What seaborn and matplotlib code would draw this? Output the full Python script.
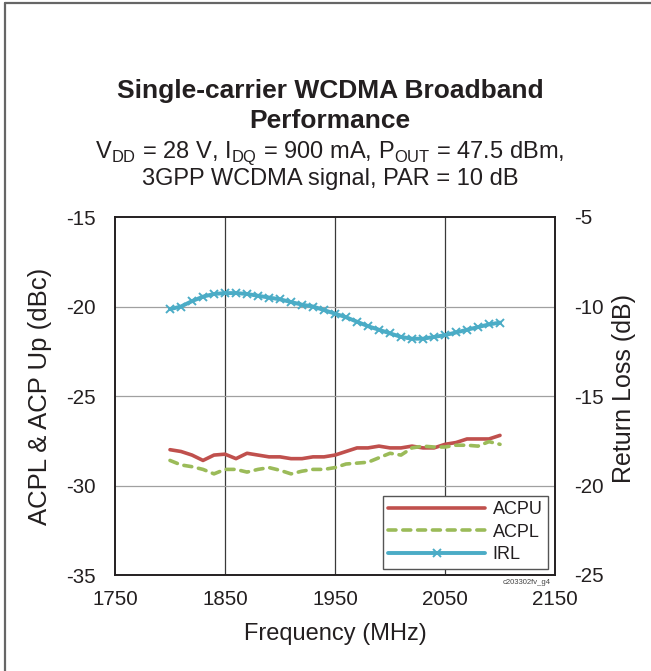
import numpy as np
import pandas as pd
import matplotlib
matplotlib.use("Agg")
import matplotlib.pyplot as plt
import seaborn as sns
from matplotlib.lines import Line2D

# ============================================================================
# DATA
# ============================================================================
freq = [1800, 1810, 1820, 1830, 1840, 1850, 1860, 1870, 1880, 1890, 1900,
        1910, 1920, 1930, 1940, 1950, 1960, 1970, 1980, 1990, 2000,
        2010, 2020, 2030, 2040, 2050, 2060, 2070, 2080, 2090, 2100]

acpu = [-28.0, -28.1, -28.3, -28.6, -28.3, -28.25, -28.5, -28.2, -28.3, -28.4, -28.4,
        -28.5, -28.5, -28.4, -28.4, -28.3, -28.1, -27.9, -27.9, -27.8, -27.9,
        -27.9, -27.8, -27.9, -27.9, -27.7, -27.6, -27.4, -27.4, -27.4, -27.2]

acpl = [-28.6, -28.85, -28.95, -29.1, -29.35, -29.1, -29.1, -29.25, -29.1, -29.0, -29.15,
        -29.35, -29.2, -29.1, -29.1, -29.0, -28.8, -28.75, -28.7, -28.45, -28.2,
        -28.3, -27.9, -27.8, -27.85, -27.85, -27.75, -27.75, -27.8, -27.55, -27.7]

irl = [-10.15, -10.0, -9.7, -9.45, -9.3, -9.25, -9.25, -9.3, -9.4, -9.5, -9.6,
       -9.75, -9.9, -10.0, -10.2, -10.4, -10.6, -10.85, -11.1, -11.3, -11.5,
       -11.7, -11.8, -11.8, -11.7, -11.6, -11.45, -11.3, -11.15, -11.0, -10.9]

x_ticks = [1750, 1850, 1950, 2050, 2150]
left_ticks = [-35, -30, -25, -20, -15]
right_ticks = [-25, -20, -15, -10, -5]

df = pd.DataFrame({"freq": freq, "ACPU": acpu, "ACPL": acpl, "IRL": irl})

# ============================================================================
# STYLE
# ============================================================================
sns.set_style("white")
plt.rcParams["font.family"] = ["Liberation Sans", "DejaVu Sans"]
plt.rcParams["axes.unicode_minus"] = False
txt = "#231F20"
red = "#C0504D"
green = "#9BBB59"
blue = "#4BACC6"
dash = (0, (2.2, 1.9))

fig = plt.figure(figsize=(6.51, 6.71), dpi=100)
ax = fig.add_axes([115 / 651, 1 - 575 / 671, 440 / 651, 358 / 671])
ax2 = ax.twinx()

# ============================================================================
# PLOT
# ============================================================================
sns.lineplot(data=df, x="freq", y="ACPU", ax=ax, color=red, lw=2.6,
             label="ACPU", legend=False)
sns.lineplot(data=df, x="freq", y="ACPL", ax=ax, color=green, lw=2.6,
             linestyle=dash, dash_capstyle="round", label="ACPL", legend=False)
sns.lineplot(data=df, x="freq", y="IRL", ax=ax2, color=blue, lw=2.8,
             marker="x", markersize=5.5, markeredgewidth=1.4, markeredgecolor=blue,
             label="IRL", legend=False)

ax.set_xlim(1750, 2150)
ax.set_ylim(-35, -15)
ax2.set_ylim(-25, -5)
ax.set_xticks(x_ticks)
ax.set_yticks(left_ticks)
ax2.set_yticks(right_ticks)

# grid: vertical dark, horizontal light
for xv in x_ticks[1:-1]:
    ax.axvline(xv, color="#3a3a3a", lw=0.9, zorder=0)
for yv in left_ticks[1:-1]:
    ax.axhline(yv, color="#a0a0a0", lw=0.9, zorder=0)

for a in (ax, ax2):
    for s in a.spines.values():
        s.set_color(txt)
        s.set_linewidth(1.2)
        s.set_visible(True)
    a.tick_params(length=0, labelsize=14.8, colors=txt, pad=14)
ax.tick_params(axis="x", pad=11)

ax.set_xlabel("Frequency (MHz)", fontsize=17, color=txt, labelpad=10)
ax.set_ylabel("ACPL & ACP Up (dBc)", fontsize=18.5, color=txt, labelpad=10)
ax2.set_ylabel("Return Loss (dB)", fontsize=18, color=txt)
ax2.yaxis.set_label_coords(1.129, 0.52)

handles = [Line2D([], [], color=red, lw=2.6),
           Line2D([], [], color=green, lw=2.6, linestyle=dash, dash_capstyle="round"),
           Line2D([], [], color=blue, lw=2.8, marker="x", markersize=5.5,
                  markeredgewidth=1.4)]
leg = ax2.legend(handles, ["ACPU", "ACPL", "IRL"], loc="lower right",
                 bbox_to_anchor=(0.984, 0.018), fontsize=13, frameon=True,
                 fancybox=False, framealpha=1, edgecolor="#555555",
                 handlelength=5.4, borderpad=0.3, borderaxespad=0,
                 labelspacing=0.3, handletextpad=0.4, numpoints=1)
leg.get_frame().set_linewidth(1.0)
for t in leg.get_texts():
    t.set_color(txt)

# ============================================================================
# TITLES AND ANNOTATION
# ============================================================================
cx = 0.507
fig.text(cx, 0.854, "Single-carrier WCDMA Broadband", ha="center", va="baseline",
         fontsize=19, fontweight="bold", color=txt)
fig.text(cx, 0.8092, "Performance", ha="center", va="baseline",
         fontsize=19, fontweight="bold", color=txt)
fig.text(cx, 0.7645,
         r"V$_{\mathregular{DD}}$ = 28 V, I$_{\mathregular{DQ}}$ = 900 mA, "
         r"P$_{\mathregular{OUT}}$ = 47.5 dBm,",
         ha="center", va="baseline", fontsize=17, color=txt)
fig.text(cx, 0.7243, "3GPP WCDMA signal, PAR = 10 dB", ha="center", va="baseline",
         fontsize=17, color=txt)
fig.text(527 / 651, 1 - 583 / 671, "c203302fv_g4", ha="center", va="center",
         fontsize=5.5, color="#444444")

# frame lines at top and left edge of the figure
fig.add_artist(Line2D([5 / 651, 1], [1 - 3 / 671, 1 - 3 / 671],
                      transform=fig.transFigure, color="#666666", lw=1.6))
fig.add_artist(Line2D([5 / 651, 5 / 651], [0, 1 - 3 / 671],
                      transform=fig.transFigure, color="#666666", lw=1.6))

fig.savefig("out.png", dpi=100)
